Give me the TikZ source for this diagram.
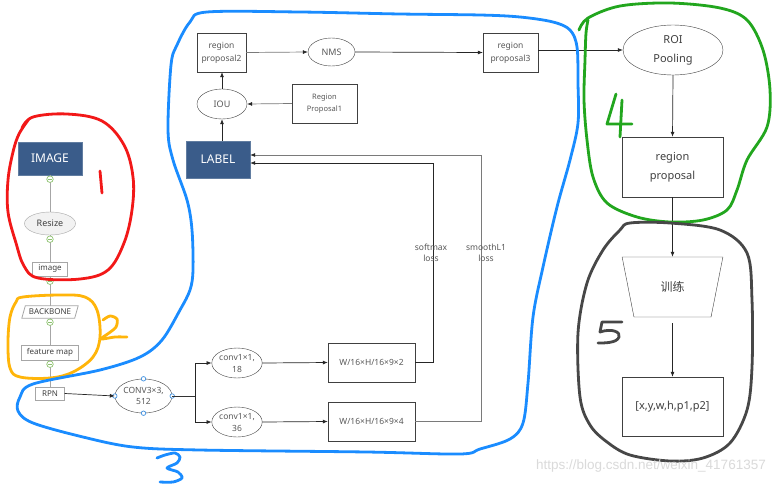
\documentclass[tikz,border=0pt]{standalone}
\usepackage{fontspec}
\setmainfont{Noto Sans}
\newfontfamily\cjk{Noto Sans CJK SC}
\newfontfamily\wmfont{Liberation Sans}
\usetikzlibrary{shapes.geometric,arrows.meta,calc}
\definecolor{dblue}{HTML}{3A5C8A}
\definecolor{txtg}{HTML}{595959}
\definecolor{txtd}{HTML}{404040}
\definecolor{lineg}{HTML}{7A7A7A}
\definecolor{boxg}{HTML}{A6A6A6}
\definecolor{mkgreen}{HTML}{8DC26F}
\definecolor{hblue}{HTML}{3D8FE0}
\definecolor{penred}{HTML}{F21818}
\definecolor{penorange}{HTML}{FFB50A}
\definecolor{penblue}{HTML}{1A8CFF}
\definecolor{pengreen}{HTML}{22A61E}
\definecolor{pengray}{HTML}{474747}
\definecolor{wmgray}{HTML}{DADADA}
\tikzset{
  darkbox/.style={draw=dblue!80!white, fill=dblue, text=white, inner sep=0, font=\fontsize{12}{14}\selectfont},
  lbox/.style={draw=boxg, fill=white, text=txtd, inner sep=0, font=\fontsize{8}{10}\selectfont},
  mbox/.style={draw=txtd, fill=white, text=txtg, inner sep=0, align=center},
  mell/.style={ellipse, draw=txtd, fill=white, text=txtg, inner sep=0, align=center},
  mk/.style={circle, draw=mkgreen, fill=white, inner sep=0, minimum size=6.5pt, line width=0.7pt,
    path picture={\draw[mkgreen, line width=0.7pt] ([xshift=-2pt]path picture bounding box.center) -- ([xshift=2pt]path picture bounding box.center);}},
  hd/.style={circle, draw=hblue, fill=white, inner sep=0, minimum size=4.5pt, line width=0.7pt},
  lcon/.style={draw=boxg, line width=0.8pt},
  arr/.style={draw=lineg, line width=0.7pt, -{Latex[length=5pt,width=4pt,color=black!85]}},
  barr/.style={draw=black!85, line width=0.7pt, -{Latex[length=5pt,width=4pt]}},
  pen/.style={line width=2.8pt, line cap=round, line join=round},
}
\begin{document}
\begin{tikzpicture}[x=1pt,y=-1pt]
\useasboundingbox (0,0) rectangle (775,485);
\fill[white] (0,0) rectangle (775,485);

% ---------- left column ----------
\node[darkbox, minimum width=64pt, minimum height=33pt] (img) at (50,158.5) {IMAGE};
\node[ellipse, draw=boxg, fill=gray!10, text=txtd, inner sep=0, minimum width=51pt, minimum height=23pt, font=\fontsize{9}{11}\selectfont] (rs) at (50,223.5) {Resize};
\node[lbox, minimum width=35pt, minimum height=14pt] (imb) at (50,269) {image};
\node[inner sep=0, text=txtd, minimum width=56pt, minimum height=12pt, font=\fontsize{8}{10}\selectfont] (bb) at (50,312) {BACKBONE};
\draw[draw=boxg, line width=0.8pt] ($(bb.north west)+(3.5,0)$) -- (bb.north east) -- ($(bb.south east)+(-3.5,0)$) -- (bb.south west) -- cycle;
\node[lbox, minimum width=57pt, minimum height=15pt] (fm) at (50,352.5) {feature map};
\node[lbox, minimum width=29pt, minimum height=13pt] (rpn) at (50,393.5) {RPN};

\draw[lcon] (img.south) -- (rs.north);
\draw[lcon] (rs.south) -- (imb.north);
\draw[lcon] (imb.south) -- (bb.north);
\draw[lcon] (bb.south) -- (fm.north);
\draw[lcon] (fm.south) -- (rpn.north);
\node[mk] (m1) at ([yshift=-4pt]img.south) {};
\node[mk] (m2) at ([yshift=-4pt]rs.south) {};
\node[mk] (m3) at ([yshift=-5pt]imb.south) {};
\node[mk] (m4) at ([yshift=-4pt]bb.south) {};
\node[mk] (m5) at ([yshift=-4pt]fm.south) {};

% ---------- RPN part ----------
\node[mell, minimum width=57pt, minimum height=34pt, font=\fontsize{8.5}{11.5}\selectfont] (conv) at (143.5,396) {CONV3×3,\\512};
\foreach \a in {north,south,east,west} \node[hd] at (conv.\a) {};
\draw[barr] (rpn.east) -- (conv.west);

\node[mell, minimum width=48pt, minimum height=30pt, font=\fontsize{8.5}{12}\selectfont] (c18) at (237,363) {conv1×1,\\18};
\node[mell, minimum width=48pt, minimum height=30pt, font=\fontsize{8.5}{12}\selectfont] (c36) at (237,422) {conv1×1,\\36};
\coordinate (sp) at (195,396);
\draw[draw=black!80, line width=0.7pt] (conv.east) -- (sp);
\draw[barr] (sp) |- (c18.west);
\draw[barr] (sp) |- (c36.west);

\node[mbox, minimum width=87pt, minimum height=39pt, font=\fontsize{8.5}{10}\selectfont] (b1) at (371.5,362.5) {W/16×H/16×9×2};
\node[mbox, minimum width=87pt, minimum height=39pt, font=\fontsize{8.5}{10}\selectfont] (b2) at (371.5,421.5) {W/16×H/16×9×4};
\draw[barr] (c18.east) -- (b1.west);
\draw[barr] (c36.east) -- (b2.west);

% ---------- top middle ----------
\node[darkbox, minimum width=64pt, minimum height=37pt] (lbl) at (218,159.5) {LABEL};
\node[mell, minimum width=50pt, minimum height=30pt, font=\fontsize{9}{11}\selectfont] (iou) at (222,104) {IOU};
\node[mbox, minimum width=49pt, minimum height=39pt, font=\fontsize{8.5}{13}\selectfont] (rp2) at (221.5,52.5) {region\\proposal2};
\node[mbox, minimum width=65pt, minimum height=39pt, font=\fontsize{7.5}{12}\selectfont] (rp1) at (324.5,103.5) {Region\\Proposal1};
\node[mell, minimum width=47pt, minimum height=28pt, font=\fontsize{9}{11}\selectfont] (nms) at (331.5,52) {NMS};
\node[mbox, minimum width=55pt, minimum height=39pt, font=\fontsize{8.5}{13}\selectfont] (rp3) at (510.5,52.5) {region\\proposal3};

\draw[barr] ([xshift=4pt]lbl.north) -- (iou.south);
\draw[barr] (iou.north) -- ([xshift=0.5pt]rp2.south);
\draw[arr] (rp1.west) -- (iou.east);
\draw[arr] (rp2.east) -- (nms.west);
\draw[barr] (nms.east) -- (rp3.west);

% loss connectors
\coordinate (c1) at (433,163);
\coordinate (c2) at (481,155);
\draw[barr] (b1.east) -| (c1) -- (c1 -| lbl.east);
\draw[arr] (b2.east) -| (c2) -- (c2 -| lbl.east);
\node[text=txtg, align=center, inner sep=0, font=\fontsize{8.5}{11}\selectfont] (sml) at (431,252.5) {softmax\\loss};
\node[text=txtg, align=center, inner sep=0, font=\fontsize{8.5}{11}\selectfont] (sl1) at (486,252.5) {smoothL1\\loss};

% ---------- right column ----------
\node[mell, text=txtd, minimum width=100pt, minimum height=50pt, font=\fontsize{11}{19}\selectfont] (roi) at (673,50) {ROI\\Pooling};
\node[mbox, text=txtd, minimum width=101pt, minimum height=60pt, font=\fontsize{11}{19}\selectfont] (rpf) at (672.5,167) {region\\proposal};
\node[trapezium, trapezium angle=71.6, trapezium stretches=true, shape border rotate=180, draw=txtd, fill=white, text=txtd, inner sep=0, minimum width=101pt, minimum height=60pt, font=\cjk\fontsize{12}{14}\selectfont] (trn) at (672.5,287) {训练};
\node[mbox, text=txtd, minimum width=101pt, minimum height=59pt, font=\fontsize{11}{13}\selectfont] (res) at (672.5,406.5) {[x,y,w,h,p1,p2]};

\draw[barr] (rp3.east |- roi.west) -- (roi.west);
\draw[barr] (roi.south) -- (rpf.north);
\draw[barr] (rpf.south) -- (trn.north);
\draw[barr, shorten <=6pt] (trn.south) -- (res.north);

% ---------- hand-drawn loops ----------
\draw[pen, penred] plot[smooth, tension=0.6] coordinates {(29,119) (19,134) (13,152) (8,180) (8,212) (16,243) (24,266) (38,278) (80,279) (108,270) (124,243) (132,210) (133,177) (124,145) (102,121) (67,114) (33,117) (22,128)};
\draw[pen, penred] (100,171) -- (102,193);

\draw[pen, penorange] plot[smooth cycle, tension=0.6] coordinates {(23,297) (60,295) (85,297) (97,310) (100,337) (93,357) (73,372) (50,378) (20,377) (10,368) (8,343) (10,317) (16,302)};
\draw[pen, penorange] plot[smooth, tension=0.5] coordinates {(103,320) (110,316) (117,319) (116,327) (109,333) (101,339) (115,337) (127,337)};

\draw[pen, penblue] plot[smooth cycle, tension=0.55] coordinates {(207,12) (300,12) (400,14) (480,15) (520,17) (553,22) (570,30) (577,47) (578,83) (578,123) (570,160) (557,207) (543,267) (533,317) (528,383) (523,423) (510,439) (480,449) (460,454) (367,452) (200,450) (133,447) (83,437) (33,423) (18,411) (20,397) (33,384) (100,370) (140,357) (162,340) (180,310) (190,290) (193,270) (192,230) (187,200) (173,160) (168,130) (171,65) (177,45) (190,22)};
\draw[pen, penblue] plot[smooth, tension=0.5] coordinates {(157,458) (165,455) (175,453) (180,457) (177,463) (167,468) (178,472) (182,478) (173,482) (160,482)};

\draw[pen, pengreen] plot[smooth, tension=0.55] coordinates {(579,30) (588,18) (620,6) (670,3) (720,8) (747,20) (763,50) (770,90) (767,127) (747,160) (737,190) (727,210) (703,220) (670,222) (637,217) (607,203) (593,177) (587,140) (584,100) (585,60) (586,33) (588,20)};
\draw[pen, pengreen] (616,94) -- (607,124) -- (632,124);
\draw[pen, pengreen] (622,100) -- (620,137);

\draw[pen, pengray] plot[smooth cycle, tension=0.55] coordinates {(630,223) (670,223) (720,230) (747,253) (752,300) (752,367) (747,410) (730,443) (703,458) (670,461) (630,455) (607,442) (590,425) (580,397) (578,333) (587,283) (603,250) (620,230)};
\draw[pen, pengray] (622,322) -- (602,322) -- (600,332) .. controls (612,328) and (621,332) .. (619,337) .. controls (617,343) and (605,343) .. (598,343);

% watermark
\node[text=wmgray, inner sep=0, font=\wmfont\fontsize{13.5}{15}\selectfont, anchor=east] (wm) at (766,466) {https://blog.csdn.net/weixin\_41761357};
\end{tikzpicture}
\end{document}
